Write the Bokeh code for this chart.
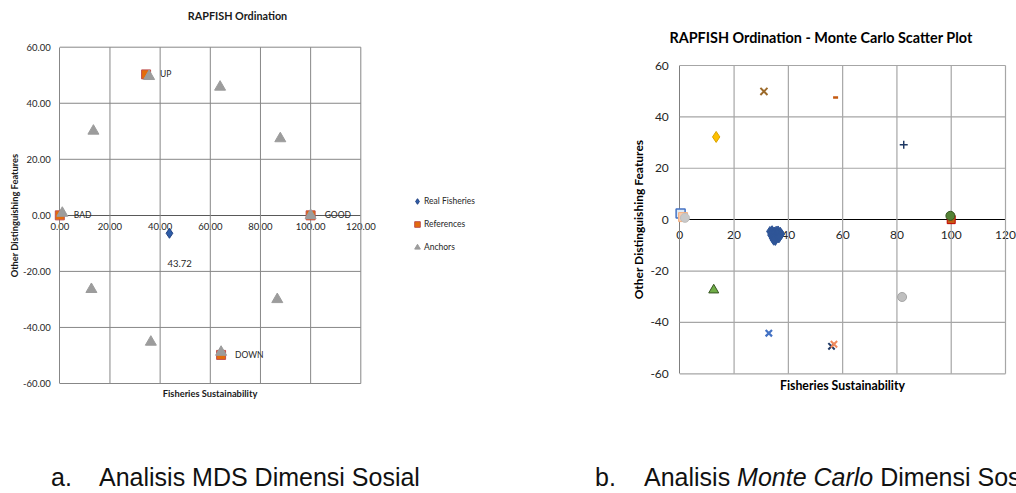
import math
from bokeh.plotting import figure
from bokeh.models import (LinearAxis, FixedTicker, NumeralTickFormatter, Range1d,
                          Legend, LegendItem, Label, Div)
from bokeh.layouts import row, column
from bokeh.core.properties import value
from bokeh.embed import file_html
from bokeh.resources import INLINE

FONT = "Lato"

# ---------------- Chart a: RAPFISH Ordination (MDS) ----------------
a_ticks_x = [0, 20, 40, 60, 80, 100, 120]
a_ticks_y = [-60, -40, -20, 0, 20, 40, 60]
real_x = [43.72]
real_y = [-6.4]
real_label = ["43.72"]
ref_x = [0.0, 100.0, 34.4, 64.3]
ref_y = [0.0, 0.0, 50.3, -49.8]
ref_names = ["BAD", "GOOD", "UP", "DOWN"]
anchor_x = [1.0, 13.4, 35.6, 63.9, 87.9, 100.0, 12.6, 36.3, 64.3, 86.7]
anchor_y = [0.8, 30.1, 49.6, 45.8, 27.4, 0.0, -26.4, -45.2, -48.8, -30.0]
legend_names = ["Real Fisheries", "References", "Anchors"]

# ---------------- Chart b: Monte Carlo scatter ----------------
b_ticks_x = [0, 20, 40, 60, 80, 100, 120]
b_ticks_y = [-60, -40, -20, 0, 20, 40, 60]
mc_x = [33.2, 34.0, 34.8, 35.5, 36.2, 37.0, 37.4, 33.6, 34.5, 35.3, 36.0, 36.8,
        34.2, 35.0, 35.8, 36.5, 35.2, 34.6]
mc_y = [-4.6, -4.3, -4.8, -4.5, -4.4, -4.9, -5.6, -6.0, -5.8, -6.2, -5.9, -6.5,
        -7.2, -7.4, -7.0, -7.1, -8.1, -8.0]
bad_a_x, bad_a_y = [0.3], [2.4]
bad_b_x, bad_b_y = [1.2], [1.0]
bad_c_x, bad_c_y = [1.9], [0.7]
up_diam_x, up_diam_y = [13.4], [32.2]
up_x_x, up_x_y = [31.0], [49.9]
dash_x, dash_y = [57.4], [47.5]
plus_x, plus_y = [82.5], [29.2]
good_sq_x, good_sq_y = [100.0], [0.0]
good_c_x, good_c_y = [99.7], [1.5]
tri_x, tri_y = [12.5], [-27.4]
bx_x, bx_y = [32.8], [-44.2]
grayc_x, grayc_y = [81.9], [-30.1]
navyx_x, navyx_y = [55.9], [-49.3]
orx_x, orx_y = [56.8], [-48.5]

# ---------------- layout helpers (pixel geometry only) ----------------
W, H = 508, 445


def make_range(p_lo, p_hi, v_lo, v_hi, total, flip=False):
    """Range so that value v_lo sits at pixel p_lo and v_hi at p_hi within [0,total]."""
    scale = (p_hi - p_lo) / (v_hi - v_lo)
    if not flip:
        return Range1d(v_lo - p_lo / scale, v_hi + (total - p_hi) / scale)
    return Range1d(v_lo - (total - p_hi) / scale, v_hi + p_lo / scale)


def base_fig(xr, yr):
    p = figure(frame_width=W, frame_height=H, x_range=xr, y_range=yr,
               x_axis_location=None, y_axis_location=None, toolbar_location=None,
               output_backend="svg", min_border=0)
    p.xgrid.visible = False
    p.ygrid.visible = False
    p.outline_line_color = None
    p.background_fill_color = "white"
    p.border_fill_color = "white"
    return p


def add_frame(p, tx, ty, color, width):
    xs = [t for t in tx if t != tx[0]]
    ys = [t for t in ty if t != 0]
    p.segment(x0=xs, y0=[ty[0]] * len(xs), x1=xs, y1=[ty[-1]] * len(xs),
              line_color=color, line_width=width)
    p.segment(x0=[tx[0]] * len(ys), y0=ys, x1=[tx[-1]] * len(ys), y1=ys,
              line_color=color, line_width=width)


def add_axes(p, tx, ty, fmt, ycolor, xcolor, size, ystand, xstand):
    ya = LinearAxis(fixed_location=tx[0], bounds=(ty[0], ty[-1]), ticker=FixedTicker(ticks=ty),
                    formatter=NumeralTickFormatter(format=fmt), level="underlay",
                    axis_line_color=ycolor, major_tick_out=0, major_tick_in=0,
                    minor_tick_line_color=None, major_label_standoff=ystand,
                    major_label_text_font=FONT, major_label_text_font_size=size,
                    major_label_text_color="#262626")
    p.add_layout(ya, "left")
    xa = LinearAxis(fixed_location=0, bounds=(tx[0], tx[-1]), ticker=FixedTicker(ticks=tx),
                    formatter=NumeralTickFormatter(format=fmt), level="underlay",
                    axis_line_color=xcolor, major_tick_out=0, major_tick_in=0,
                    minor_tick_line_color=None, major_label_standoff=xstand,
                    major_label_text_font=FONT, major_label_text_font_size=size,
                    major_label_text_color="#262626")
    p.add_layout(xa, "below")


def screen_text(p, x, y, text, size, bold=True, angle=0.0, color="#1a1a1a"):
    p.add_layout(Label(x=x, y=H - y, x_units="screen", y_units="screen", text=text,
                       angle=angle, text_align="center", text_baseline="middle",
                       text_font=FONT, text_font_size=size,
                       text_font_style="bold" if bold else "normal", text_color=color))


# ---------------- figure a ----------------
GRID_A = "#878787"
p1 = base_fig(make_range(59.3, 360.3, a_ticks_x[0], a_ticks_x[-1], W),
              make_range(46.7, 383.0, a_ticks_y[0], a_ticks_y[-1], H, flip=True))
add_frame(p1, a_ticks_x, a_ticks_y, GRID_A, 1)
add_axes(p1, a_ticks_x, a_ticks_y, "0.00", GRID_A, "#595959", "9.5px", 9, 8)

r_real = p1.scatter(real_x, real_y, marker="diamond", size=10, fill_color="#2E5DA8",
                    line_color="#1F3F80", line_width=1)
r_ref = p1.scatter(ref_x, ref_y, marker="square", size=9, fill_color="#E46C0A",
                   line_color="#C0504D", line_width=1)
r_anc = p1.scatter(anchor_x, anchor_y, marker="triangle", size=11, fill_color="#9C9C9C",
                   line_color="#9C9C9C", line_width=1)

p1.text(x=ref_x, y=ref_y, text=ref_names, x_offset=14, text_baseline="middle",
        text_align="left", text_font=value(FONT), text_font_size="8.5px", text_color="#262626")
p1.text(x=real_x, y=real_y, text=real_label, x_offset=-2, y_offset=30, text_baseline="middle",
        text_align="left", text_font=value(FONT), text_font_size="9.5px", text_color="#262626")

leg = Legend(items=[LegendItem(label=legend_names[0], renderers=[r_real]),
                    LegendItem(label=legend_names[1], renderers=[r_ref]),
                    LegendItem(label=legend_names[2], renderers=[r_anc])],
             location=(410, 190), padding=0, margin=0, spacing=7, label_height=16,
             glyph_height=14, glyph_width=14, label_standoff=0, border_line_color=None,
             background_fill_alpha=0, label_text_font=FONT, label_text_font_size="8.5px",
             label_text_color="#262626")
p1.add_layout(leg)

screen_text(p1, 237, 15, "RAPFISH Ordination", "10.8px")
screen_text(p1, 14, 215, "Other Distinguishing Features", "9.3px", angle=math.pi / 2)
screen_text(p1, 209.5, 393, "Fisheries Sustainability", "9.3px")

# ---------------- figure b ----------------
GRID_B = "#A6A6A6"
p2 = base_fig(make_range(171.3, 497.0, b_ticks_x[0], b_ticks_x[-1], W),
              make_range(65.0, 373.3, b_ticks_y[0], b_ticks_y[-1], H, flip=True))
add_frame(p2, b_ticks_x, b_ticks_y, GRID_B, 1.2)
add_axes(p2, b_ticks_x, b_ticks_y, "0", "#7F7F7F", "#000000", "12px", 11, 11)

p2.scatter(bad_a_x, bad_a_y, marker="square", size=9, fill_color="#DEEBF7", line_color="#4472C4", line_width=1.5)
p2.scatter(bad_b_x, bad_b_y, marker="square", size=9, fill_color="#F8CBAD", line_color="#F4B183", line_width=1)
p2.scatter(bad_c_x, bad_c_y, marker="circle", size=9, fill_color="#C9C9C9", line_color="#BFBFBF", line_width=1)
p2.scatter(up_diam_x, up_diam_y, marker="diamond", size=11, fill_color="#FFC000", line_color="#D9A300", line_width=1)
p2.scatter(up_x_x, up_x_y, marker="x", size=10, line_color="#9C6A2A", line_width=2)
p2.scatter(dash_x, dash_y, marker="dash", size=5, line_color="#C55A11", line_width=2.5)
p2.scatter(plus_x, plus_y, marker="cross", size=8, line_color="#1F3864", line_width=1.5)
p2.scatter(good_sq_x, good_sq_y, marker="square", size=8, fill_color="#C55A11", line_color="#C00000", line_width=1)
p2.scatter(good_c_x, good_c_y, marker="circle", size=9, fill_color="#548235", line_color="#375623", line_width=1)
p2.scatter(tri_x, tri_y, marker="triangle", size=10, fill_color="#70AD47", line_color="#375623", line_width=1)
p2.scatter(bx_x, bx_y, marker="x", size=9, line_color="#4472C4", line_width=2.2)
p2.scatter(grayc_x, grayc_y, marker="circle", size=9, fill_color="#BFBFBF", line_color="#A5A5A5", line_width=1)
p2.scatter(navyx_x, navyx_y, marker="x", size=9, line_color="#1F3864", line_width=2)
p2.scatter(orx_x, orx_y, marker="x", size=9, line_color="#F08A5D", line_width=2)
p2.scatter(mc_x, mc_y, marker="diamond", size=10, fill_color="#2F5597", line_color="#2F5597", line_width=1)

screen_text(p2, 312.5, 37, "RAPFISH Ordination - Monte Carlo Scatter Plot", "14.4px", color="#000000")
screen_text(p2, 129.5, 219, "Other Distinguishing Features", "12px", angle=math.pi / 2, color="#000000")
screen_text(p2, 334, 385, "Fisheries Sustainability", "12.3px", color="#000000")

# ---------------- captions ----------------
SPAN = "position:absolute;top:15px;"
cap_html = (
    "<div style=\"position:relative;width:1016px;height:48px;overflow:hidden;"
    "font-family:'Liberation Sans',Arial,sans-serif;font-size:25px;line-height:25px;"
    "color:#111;white-space:nowrap;\">"
    f"<span style='{SPAN}left:46px'>a.</span>"
    f"<span style='{SPAN}left:94px'>Analisis MDS Dimensi Sosial</span>"
    f"<span style='{SPAN}left:590px'>b.</span>"
    f"<span style='{SPAN}left:639px'>Analisis <i>Monte Carlo</i> Dimensi Sosial</span>"
    "</div>"
)
captions = Div(text=cap_html, width=1016, height=48)

layout = column(row(p1, p2, spacing=0), captions, spacing=0)

with open("out.html", "w") as f:
    f.write(file_html(layout, INLINE))
